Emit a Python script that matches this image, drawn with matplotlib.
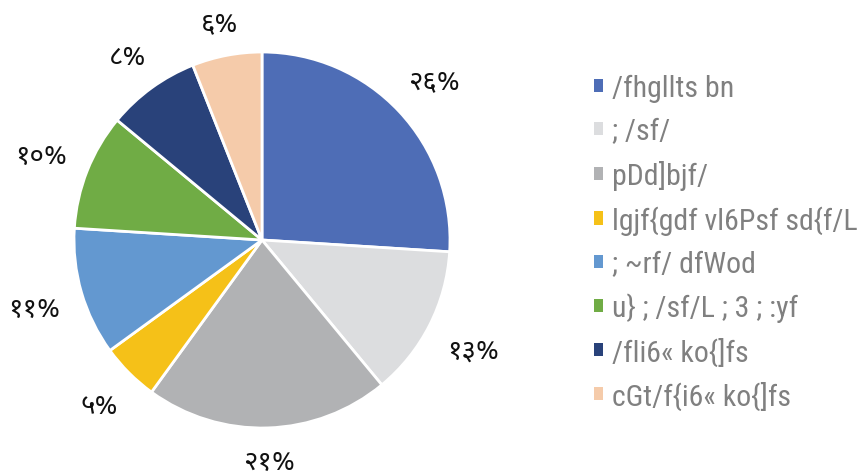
import matplotlib
matplotlib.use("Agg")
import numpy as np
import matplotlib.pyplot as plt
from matplotlib import font_manager
from matplotlib.patches import Patch
import logging
logging.getLogger("matplotlib.font_manager").setLevel(logging.ERROR)

categories = ["/fhgllts bn", "; /sf/", "pDd]bjf/", "lgjf{gdf vl6Psf sd{f/L",
              "; ~rf/ dfWod", "u} ; /sf/L ; 3 ; :yf", "/fli6« ko{]fs", "cGt/f{i6« ko{]fs"]
values = [26, 13, 21, 5, 11, 10, 8, 6]
colors = ["#4e6db6", "#dcdddf", "#b1b2b4", "#f5c118", "#6398d0", "#70ac45", "#29427a", "#f5cbaa"]

DEV_DIGITS = "०१२३४५६७८९"


def to_dev(p):
    s = str(int(round(p)))
    return "".join(DEV_DIGITS[int(c)] for c in s) + "%"


installed = set(f.name for f in font_manager.fontManager.ttflist)


def pick(cands):
    out = [c for c in cands if c in installed]
    return out + ["DejaVu Sans"]


pct_families = pick(["Noto Sans Devanagari", "Mukta", "Hind", "Noto Sans Devanagari UI"])
legend_families = pick(["Roboto Condensed", "Archivo Narrow", "PT Sans Narrow", "Liberation Sans"])

fig = plt.figure(figsize=(8.63, 4.77), dpi=100)
W, H = 863, 477
cx, cy, r = 262, 477 - 241, 188
half = 1.3 * r
ax = fig.add_axes([(cx - half) / W, (cy - half) / H, 2 * half / W, 2 * half / H])

wedges, texts, autotexts = ax.pie(
    values, colors=colors, startangle=90, counterclock=False,
    autopct=to_dev, pctdistance=1.2,
    wedgeprops=dict(edgecolor="white", linewidth=2),
    textprops=dict(fontsize=20, color="#111111", family=pct_families),
)
ax.set_xlim(-1.3, 1.3)
ax.set_ylim(-1.3, 1.3)
ax.set_aspect("equal")
ax.axis("off")

# place labels outside like Excel: box just clear of the pie edge
renderer = fig.canvas.get_renderer()
gap = 0.11
hh = 12.0 / r
for w, t in zip(wedges, autotexts):
    ang = np.deg2rad((w.theta1 + w.theta2) / 2)
    dx, dy = np.cos(ang), np.sin(ang)
    t.set_ha("center")
    t.set_va("center")
    hw = t.get_window_extent(renderer).width / 2 / r
    d = 1 + gap + abs(dx) * hw + abs(dy) * hh
    yshift = -3.0 / r if dy > -0.9 else -1.0 / r
    t.set_position((d * dx, d * dy + yshift))

handles = [Patch(facecolor=c, edgecolor="none") for c in colors]
leg = fig.legend(handles, categories, loc="upper left",
                 bbox_to_anchor=(594 / W, 1 - 75 / H), frameon=False,
                 handlelength=0.3, handleheight=0.3, handletextpad=0.3,
                 labelspacing=0.505, borderaxespad=0, borderpad=0,
                 prop=font_manager.FontProperties(family=legend_families, size=21.5))
for t in leg.get_texts():
    t.set_color("#808080")

fig.savefig("out.png", dpi=100)
